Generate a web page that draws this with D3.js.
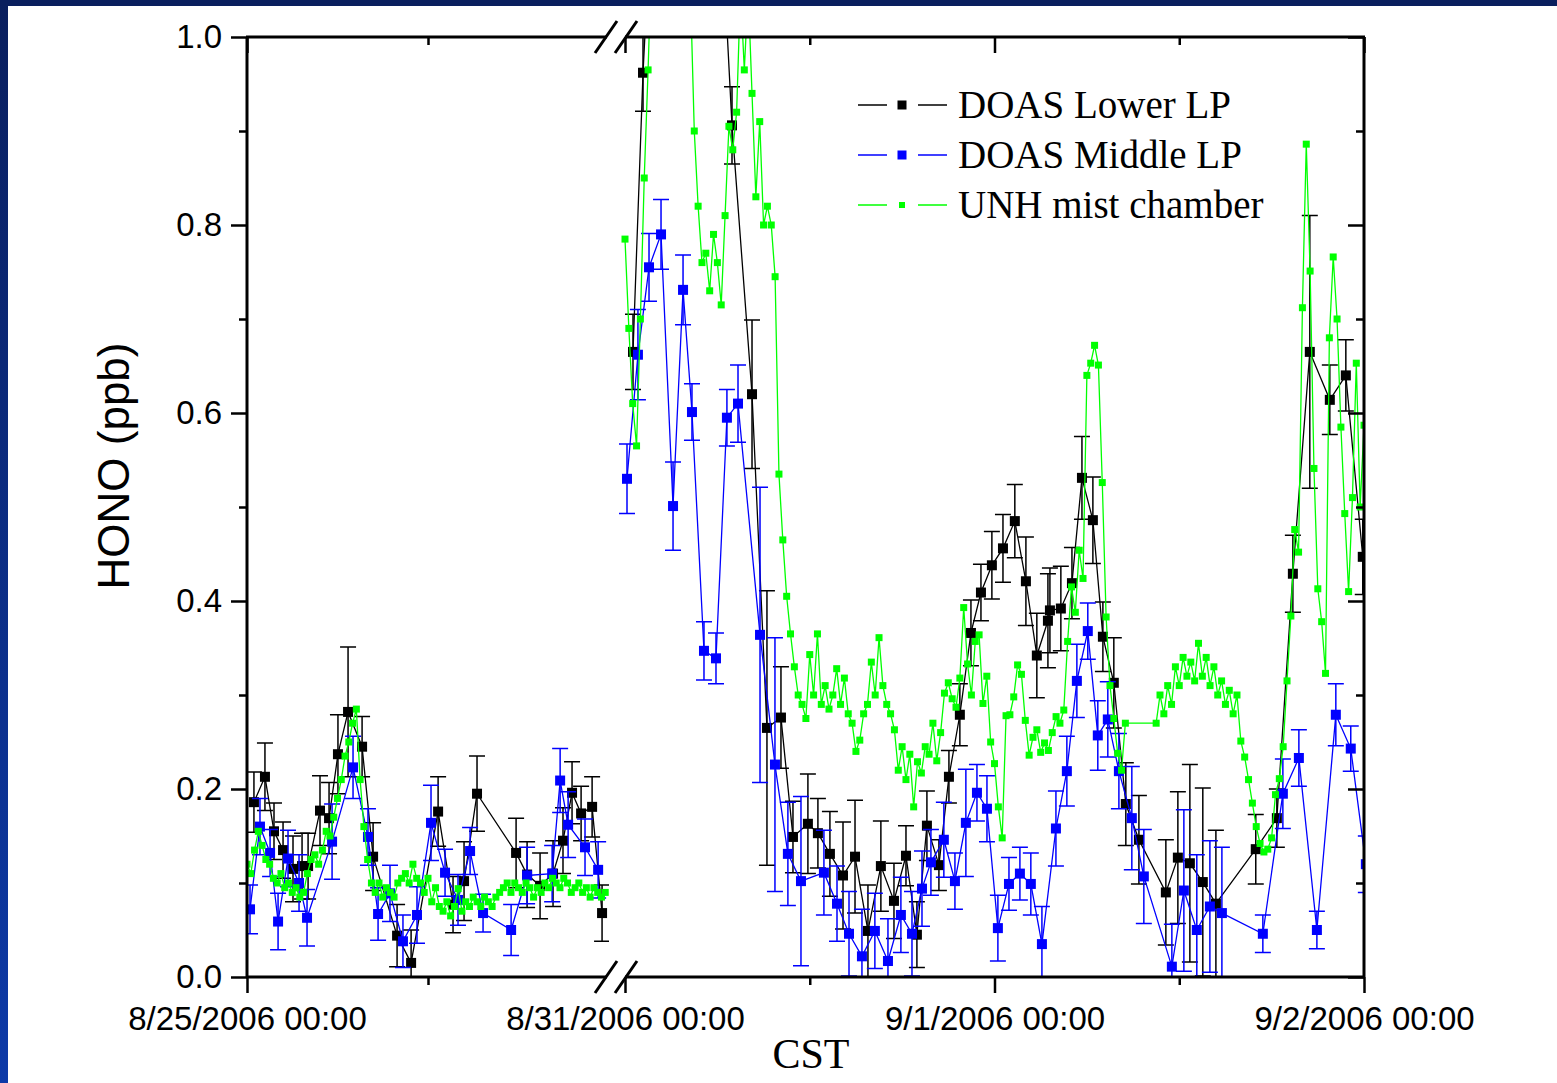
<!DOCTYPE html>
<html>
<head>
<meta charset="utf-8">
<script src="https://cdn.jsdelivr.net/npm/d3@7"></script>
<style>
  html, body { margin: 0; padding: 0; background: #fff; }
  svg { display: block; }
  .axis text { font-family: "Liberation Sans", Arial, sans-serif; font-size: 33px; fill: #000; }
  .axis line { stroke: #000; stroke-width: 2.5; }
  .axis path.domain { display: none; }
</style>
</head>
<body>
<svg id="chart" width="1557" height="1083"></svg>
<script>
// time = hours after 8/25/2006 00:00 CST (8/31 00:00 = 144 h)
const blackT = [0.46, 1.19, 1.79, 2.39, 3.05, 3.65, 4.05, 4.84, 5.44, 6.03, 6.70, 7.63, 8.36, 9.95, 10.88, 12.67, 13.66, 14.39, 15.25, 17.84, 18.57, 19.43, 20.29, 20.95, 21.55, 22.15, 22.88, 23.54,
  144.52, 145.17, 147.96, 150.95, 152.25, 153.22, 154.13, 154.91, 155.88, 156.53, 157.31, 158.16, 158.94, 159.78, 160.62, 161.47, 162.25, 162.96, 163.61, 164.39, 165.04, 165.75, 166.47, 167.12, 167.83, 168.55, 169.32, 170.04, 170.75, 171.47, 171.60, 172.31, 173.03, 173.68, 174.39, 175.04, 175.75, 176.53, 177.38, 179.13, 179.91, 180.69, 181.53, 182.38, 184.97, 186.34, 187.38, 188.48, 189.78, 190.82, 191.92];
const blackV = [0.186, 0.213, 0.155, 0.135, 0.115, 0.118, 0.118, 0.177, 0.169, 0.237, 0.282, 0.245, 0.128, 0.044, 0.015, 0.176, 0.077, 0.102, 0.195, 0.132, 0.109, 0.097, 0.110, 0.145, 0.196, 0.174, 0.181, 0.068,
  0.665, 0.962, 1.85, 0.906, 0.620, 0.265, 0.276, 0.149, 0.163, 0.153, 0.131, 0.108, 0.128, 0.049, 0.118, 0.081, 0.129, 0.045, 0.161, 0.119, 0.213, 0.279, 0.366, 0.409, 0.438, 0.456, 0.485, 0.421, 0.342, 0.379, 0.390, 0.392, 0.419, 0.531, 0.486, 0.362, 0.313, 0.184, 0.146, 0.090, 0.127, 0.121, 0.101, 0.078, 0.136, 0.169, 0.429, 0.665, 0.614, 0.640, 0.447];
const blackE = [0.032, 0.036, 0.03, 0.03, 0.035, 0.035, 0.035, 0.037, 0.038, 0.042, 0.069, 0.032, 0.036, 0.033, 0.035, 0.037, 0.03, 0.042, 0.04, 0.037, 0.035, 0.035, 0.035, 0.035, 0.033, 0.029, 0.032, 0.03,
  0.04, 0.041, 0.05, 0.041, 0.079, 0.146, 0.054, 0.038, 0.053, 0.037, 0.045, 0.057, 0.06, 0.049, 0.048, 0.04, 0.032, 0.035, 0.037, 0.027, 0.028, 0.033, 0.035, 0.03, 0.036, 0.036, 0.039, 0.047, 0.045, 0.05, 0.045, 0.045, 0.038, 0.044, 0.046, 0.037, 0.048, 0.044, 0.047, 0.056, 0.07, 0.105, 0.1, 0.078, 0.037, 0.031, 0.041, 0.145, 0.037, 0.038, 0.04];

const blueT = [0.20, 0.86, 1.53, 2.06, 2.72, 3.45, 3.98, 5.64, 7.03, 8.02, 8.69, 9.48, 10.34, 11.27, 12.20, 13.13, 13.99, 14.79, 15.65, 17.51, 18.57, 20.23, 20.76, 21.29, 22.41, 23.28,
  144.13, 144.84, 145.56, 146.34, 147.12, 147.77, 148.35, 149.13, 149.91, 150.62, 151.34, 152.77, 153.74, 154.58, 155.43, 156.92, 157.77, 158.55, 159.39, 160.23, 161.08, 161.92, 162.64, 163.29, 163.87, 164.71, 165.43, 166.14, 166.86, 167.51, 168.22, 168.94, 169.65, 170.36, 171.08, 171.99, 172.70, 173.35, 174.06, 174.71, 175.36, 176.08, 176.92, 177.70, 179.52, 180.30, 181.14, 181.99, 182.77, 185.43, 186.73, 187.77, 188.94, 190.17, 191.14, 192.12];
const blueV = [0.072, 0.160, 0.132, 0.059, 0.126, 0.100, 0.063, 0.144, 0.223, 0.149, 0.067, 0.089, 0.038, 0.066, 0.164, 0.111, 0.082, 0.134, 0.068, 0.050, 0.108, 0.110, 0.209, 0.162, 0.138, 0.114,
  0.530, 0.662, 0.755, 0.790, 0.501, 0.731, 0.601, 0.347, 0.339, 0.595, 0.610, 0.364, 0.226, 0.131, 0.102, 0.111, 0.078, 0.046, 0.022, 0.049, 0.017, 0.066, 0.046, 0.094, 0.122, 0.146, 0.102, 0.164, 0.196, 0.179, 0.052, 0.099, 0.110, 0.099, 0.035, 0.158, 0.219, 0.315, 0.368, 0.257, 0.274, 0.219, 0.169, 0.107, 0.011, 0.092, 0.050, 0.075, 0.068, 0.046, 0.195, 0.233, 0.050, 0.279, 0.243, 0.120];
const blueE = [0.026, 0.03, 0.025, 0.03, 0.03, 0.03, 0.03, 0.04, 0.033, 0.03, 0.028, 0.03, 0.028, 0.03, 0.04, 0.025, 0.027, 0.025, 0.02, 0.027, 0.03, 0.03, 0.034, 0.035, 0.03, 0.03,
  0.037, 0.048, 0.036, 0.037, 0.047, 0.037, 0.03, 0.031, 0.027, 0.03, 0.041, 0.157, 0.135, 0.055, 0.09, 0.045, 0.04, 0.045, 0.05, 0.04, 0.045, 0.04, 0.045, 0.04, 0.035, 0.04, 0.03, 0.057, 0.03, 0.035, 0.035, 0.028, 0.028, 0.033, 0.04, 0.04, 0.037, 0.039, 0.03, 0.037, 0.04, 0.04, 0.055, 0.05, 0.045, 0.086, 0.08, 0.07, 0.07, 0.02, 0.037, 0.03, 0.02, 0.033, 0.024, 0.03];

// mist chamber, one value per 15 min, null = no sample
const greenStep = 0.25;
const greenLeftStart = 0;
const greenLeftV = [0.12, 0.11, 0.135, 0.155, 0.14, 0.125, 0.12, 0.105, 0.10, 0.11,
  0.095, 0.10, 0.09, 0.095, 0.085, 0.09, 0.11, 0.125, 0.13, 0.12,
  0.135, 0.155, 0.15, 0.17, 0.19, 0.21, 0.235, 0.25, 0.27, 0.285,
  0.21, 0.16, 0.125, 0.10, 0.09, 0.10, 0.085, 0.095, 0.09, 0.085,
  0.10, 0.105, 0.11, 0.10, 0.12, 0.105, 0.10, 0.09, 0.105, 0.08,
  0.095, 0.075, 0.07, 0.08, 0.065, 0.075, 0.094, 0.07, 0.08, 0.075,
  0.085, 0.08, 0.075, 0.085, 0.08, 0.075, 0.085, 0.09, 0.095, 0.10,
  0.09, 0.10, 0.095, 0.09, 0.10, 0.095, 0.085, 0.095, 0.09, 0.10,
  0.095, 0.105, 0.10, 0.095, 0.105, 0.10, 0.09, 0.095, 0.10, 0.09,
  0.095, 0.085, 0.095, 0.09, 0.085, 0.09];
const greenRightStart = 144;
const greenRightV = [0.785, 0.69, 0.61, 0.565, 0.70, 0.85, 0.965, 1.1, 1.15, 1.2, 1.12, 1.25, 1.18, 1.1, 1.2, 1.15, 1.1, 1.05,
  0.90, 0.82, 0.76, 0.77, 0.73, 0.79, 0.76, 0.715, 0.81, 0.905, 0.88, 0.92, 1.05, 0.965, 1.05, 0.94, 0.83, 0.91, 0.80, 0.82, 0.80, 0.745, 0.535, 0.465, 0.405, 0.365, 0.33, 0.30,
  0.29, 0.275, 0.343, 0.30, 0.365, 0.29, 0.31, 0.285, 0.30, 0.328, 0.29, 0.318, 0.28, 0.27, 0.24, 0.252, 0.28, 0.29, 0.335, 0.30, 0.361, 0.31, 0.29, 0.28, 0.263, 0.22, 0.245, 0.21, 0.237, 0.181, 0.229, 0.217, 0.245, 0.237, 0.27, 0.23, 0.26, 0.302, 0.313, 0.296, 0.287, 0.318, 0.393, 0.333, 0.30, 0.357, 0.364, 0.291, 0.32, 0.25, 0.227, 0.181, 0.148,
  0.278, 0.279, 0.298, 0.332, 0.322, 0.273, 0.236, 0.255, 0.263, 0.239, 0.249, 0.241, 0.26, 0.277, 0.27, 0.284, 0.357, 0.415, 0.388, 0.454, 0.424, 0.64, 0.653, 0.672, 0.651, 0.526, 0.383, 0.31, 0.275, 0.238, 0.22, 0.27,
  null, null, null, null, null, null, null,
  0.27, 0.30, 0.28, 0.31, 0.29, 0.33, 0.31, 0.34, 0.32, 0.335, 0.315, 0.355, 0.32, 0.34, 0.31, 0.33, 0.30, 0.315, 0.29, 0.305, 0.28, 0.30, 0.251, 0.234, 0.21, 0.185, 0.16, 0.142, 0.133, 0.136, 0.148, 0.194, 0.211, 0.245, 0.315, 0.384, 0.476, 0.452, 0.712, 0.886, 0.751, 0.541, 0.413, 0.378, 0.323, 0.68, 0.766, 0.70, 0.585, 0.493, 0.41, 0.51, 0.653, 0.50, 0.587];

const yMajor = [0, 0.2, 0.4, 0.6, 0.8, 1.0];
const yMinor = [0.1, 0.3, 0.5, 0.7, 0.9];
const xMajor = [0, 144, 168, 192];
const xMajorLabels = ["8/25/2006 00:00", "8/31/2006 00:00", "9/1/2006 00:00", "9/2/2006 00:00"];
const xMinor = [12, 156, 180];
const seriesNames = ["DOAS Lower LP", "DOAS Middle LP", "UNH mist chamber"];
const seriesColors = ["#000000", "#0000ff", "#00ff00"];

const plot = { left: 247, right: 1364, top: 37, bottom: 977 };
const svg = d3.select("#chart");
const defs = svg.append("defs");

// slide background edges
const grad = defs.append("linearGradient").attr("id", "edge")
  .attr("x1", 0).attr("y1", 0).attr("x2", 0).attr("y2", 1);
grad.append("stop").attr("offset", "0%").attr("stop-color", "#0a1f5e");
grad.append("stop").attr("offset", "100%").attr("stop-color", "#0d3aa8");
svg.append("rect").attr("x", 0).attr("y", 0).attr("width", 8).attr("height", 1083).attr("fill", "url(#edge)");
svg.append("rect").attr("x", 0).attr("y", 0).attr("width", 1557).attr("height", 6).attr("fill", "#0a1f5e");

const y = d3.scaleLinear().domain([0, 1]).range([plot.bottom, plot.top]);
const xL = d3.scaleLinear().domain([0, 24]).range([plot.left, 609]);
const xR = d3.scaleLinear().domain([144, 192]).range([625, plot.right]);
const segs = [
  { id: "clipL", x: xL, x0: plot.left, x1: 609 },
  { id: "clipR", x: xR, x0: 619, x1: plot.right }
];

segs.forEach((s) => {
  defs.append("clipPath").attr("id", s.id).append("rect")
    .attr("x", s.x0).attr("y", plot.top)
    .attr("width", s.x1 - s.x0).attr("height", plot.bottom - plot.top);
});

const blackPts = blackT.map((t, i) => ({ t, v: blackV[i], e: blackE[i] }));
const bluePts = blueT.map((t, i) => ({ t, v: blueV[i], e: blueE[i] }));
const greenPts = [
  ...greenLeftV.map((v, i) => ({ t: greenLeftStart + i * greenStep, v })),
  ...greenRightV.map((v, i) => ({ t: greenRightStart + i * greenStep, v }))
].filter((d) => d.v !== null);

const series = [
  { pts: blackPts, color: seriesColors[0], size: 10, err: true },
  { pts: bluePts, color: seriesColors[1], size: 10, err: true },
  { pts: greenPts, color: seriesColors[2], size: 7, err: false }
];

segs.forEach((s) => {
  const g = svg.append("g").attr("clip-path", `url(#${s.id})`);
  const inSeg = (d) => (s.id === "clipL" ? d.t < 72 : d.t >= 72);
  const line = d3.line().x((d) => s.x(d.t)).y((d) => y(d.v));
  series.forEach((se) => {
    const pts = se.pts.filter(inSeg);
    if (se.err) {
      g.append("g").selectAll("path").data(pts).enter().append("path")
        .attr("fill", "none").attr("stroke", se.color).attr("stroke-width", 1.5)
        .attr("d", (d) => {
          const x = s.x(d.t), y1 = y(d.v + d.e), y0 = y(d.v - d.e);
          return `M${x},${y0}V${y1}M${x - 8},${y1}h16M${x - 8},${y0}h16`;
        });
    }
    g.append("path").datum(pts)
      .attr("fill", "none").attr("stroke", se.color).attr("stroke-width", 1.3)
      .attr("d", line);
    g.append("g").selectAll("rect").data(pts).enter().append("rect")
      .attr("x", (d) => s.x(d.t) - se.size / 2)
      .attr("y", (d) => y(d.v) - se.size / 2)
      .attr("width", se.size).attr("height", se.size)
      .attr("fill", se.color);
  });
});

// frame, broken at the gap in time
const frame = svg.append("g").attr("stroke", "#000").attr("stroke-width", 3).attr("fill", "none");
[plot.top, plot.bottom].forEach((yy) => {
  frame.append("line").attr("x1", plot.left - 1).attr("x2", 607).attr("y1", yy).attr("y2", yy);
  frame.append("line").attr("x1", 625).attr("x2", plot.right + 1).attr("y1", yy).attr("y2", yy);
  [606, 626].forEach((cx) => {
    frame.append("line").attr("x1", cx - 11).attr("y1", yy + 16).attr("x2", cx + 11).attr("y2", yy - 16);
  });
});
frame.append("line").attr("x1", plot.left).attr("x2", plot.left).attr("y1", plot.top).attr("y2", plot.bottom);
frame.append("line").attr("x1", plot.right).attr("x2", plot.right).attr("y1", plot.top).attr("y2", plot.bottom);

// y axes
svg.append("g").attr("class", "axis").attr("transform", `translate(${plot.left},0)`)
  .call(d3.axisLeft(y).tickValues(yMajor).tickSize(16).tickPadding(9).tickFormat(d3.format(".1f")));
svg.append("g").attr("class", "axis").attr("transform", `translate(${plot.left},0)`)
  .call(d3.axisLeft(y).tickValues(yMinor).tickSize(8).tickFormat(""));
svg.append("g").attr("class", "axis").attr("transform", `translate(${plot.right},0)`)
  .call(d3.axisLeft(y).tickValues(yMajor).tickSize(16).tickFormat(""));
svg.append("g").attr("class", "axis").attr("transform", `translate(${plot.right},0)`)
  .call(d3.axisLeft(y).tickValues(yMinor).tickSize(8).tickFormat(""));

// x axes (one per segment)
segs.forEach((s) => {
  const dom = s.x.domain();
  const maj = xMajor.filter((t) => t >= dom[0] && t <= dom[1]);
  const mnr = xMinor.filter((t) => t >= dom[0] && t <= dom[1]);
  svg.append("g").attr("class", "axis").attr("transform", `translate(0,${plot.bottom})`)
    .call(d3.axisBottom(s.x).tickValues(maj).tickSize(16).tickPadding(14)
      .tickFormat((t) => xMajorLabels[xMajor.indexOf(t)]));
  svg.append("g").attr("class", "axis").attr("transform", `translate(0,${plot.bottom})`)
    .call(d3.axisBottom(s.x).tickValues(mnr).tickSize(8).tickFormat(""));
  svg.append("g").attr("class", "axis").attr("transform", `translate(0,${plot.top})`)
    .call(d3.axisBottom(s.x).tickValues(maj).tickSize(16).tickFormat(""));
  svg.append("g").attr("class", "axis").attr("transform", `translate(0,${plot.top})`)
    .call(d3.axisBottom(s.x).tickValues(mnr).tickSize(8).tickFormat(""));
});

// titles
svg.append("text")
  .attr("transform", "translate(129,466) rotate(-90)")
  .attr("text-anchor", "middle")
  .style("font-family", "'Liberation Sans', Arial, sans-serif")
  .style("font-size", "44px")
  .text("HONO (ppb)");
svg.append("text")
  .attr("x", 811).attr("y", 1068)
  .attr("text-anchor", "middle")
  .style("font-family", "'Liberation Serif', 'Times New Roman', serif")
  .style("font-size", "42px")
  .text("CST");

// legend
const legend = svg.append("g").attr("transform", "translate(858,105)");
seriesNames.forEach((name, i) => {
  const row = legend.append("g").attr("transform", `translate(0,${i * 50})`);
  const c = seriesColors[i];
  const sz = series[i].size - 1;
  row.append("line").attr("x1", 0).attr("x2", 29).attr("y1", 0).attr("y2", 0).attr("stroke", c).attr("stroke-width", 1.5);
  row.append("line").attr("x1", 60).attr("x2", 89).attr("y1", 0).attr("y2", 0).attr("stroke", c).attr("stroke-width", 1.5);
  row.append("rect").attr("x", 44 - sz / 2).attr("y", -sz / 2).attr("width", sz).attr("height", sz).attr("fill", c);
  row.append("text").attr("x", 100).attr("y", 13)
    .style("font-family", "'Liberation Serif', 'Times New Roman', serif")
    .style("font-size", "39px")
    .text(name);
});
</script>
</body>
</html>
